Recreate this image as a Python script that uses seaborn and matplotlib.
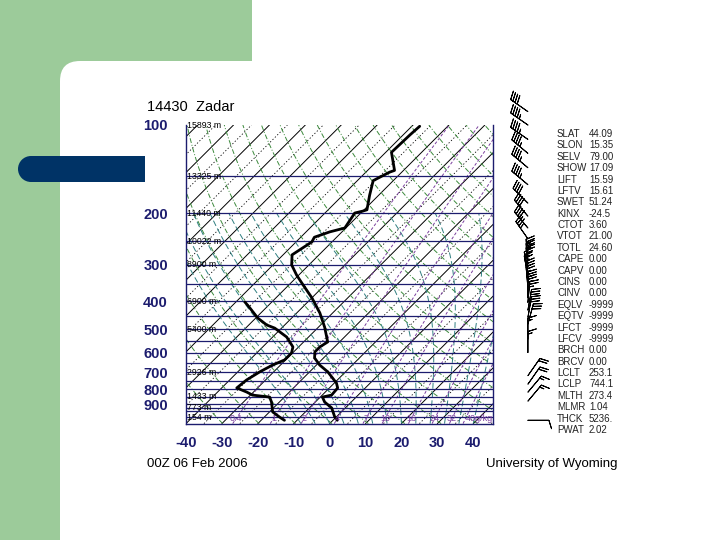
import numpy as np
import matplotlib
matplotlib.use("Agg")
import matplotlib.pyplot as plt
import matplotlib.ticker as mticker
from matplotlib.patches import Rectangle, FancyBboxPatch, Circle
import seaborn as sns

# --------------------------------------------------------------
# Sounding data (hPa, deg C)
# --------------------------------------------------------------
temp_p = [101, 108, 124, 143, 145, 155, 174, 195, 197, 200, 225, 232, 242, 251,
          278, 301, 326, 352, 390, 439, 491, 552, 574, 597, 626, 662, 699, 763,
          793, 839, 852, 886, 928, 997, 1023]
temp_c = [-57.8, -58.1, -58.4, -52.5, -53.4, -55.6, -52.5, -49.2, -50.0, -51.7,
          -50.3, -53.4, -56.2, -55.6, -57.5, -54.8, -50.6, -46.1, -40.0, -33.6,
          -28.3, -23.3, -24.1, -24.1, -22.5, -19.1, -14.9, -9.4, -7.7, -7.4,
          -9.4, -7.4, -3.8, -0.4, 1.2]

dwpt_p = [403, 422, 457, 483, 495, 531, 574, 602, 636, 662, 699, 745, 793, 819,
          839, 852, 886, 958, 997, 1023]
dwpt_c = [-57.5, -54.5, -49.5, -45.0, -41.9, -36.1, -31.6, -30.3, -30.3, -32.2,
          -33.9, -35.3, -35.8, -31.9, -29.4, -24.1, -22.2, -19.1, -15.8, -13.5]

# axis labels
press_ticks = [100, 200, 300, 400, 500, 600, 700, 800, 900]
temp_ticks = [-40, -30, -20, -10, 0, 10, 20, 30, 40]

# isobars and the heights written on them
isobars = [150, 200, 250, 300, 350, 400, 450, 500, 550, 600, 650, 700, 750,
           800, 850, 900, 925, 950, 1000]
height_p = [100, 150, 200, 250, 300, 400, 500, 700, 850, 925, 1000]
height_txt = ["15893 m", "13325 m", "11440 m", "10022 m", "8900 m", "6900 m",
              "5400 m", "2926 m", "1433 m", "773 m", "154 m"]

# mixing ratio lines (g/kg)
mixr_vals = [0.4, 1, 2, 4, 7, 10, 16, 24, 32, 40]
mixr_txt = ["0.4", "1", "2", "4", "7", "10", "16", "24", "32", "40g/kg"]

# winds
wind_p = [90, 100, 112, 125, 140, 160, 185, 205, 225, 245,
          290, 300, 310, 320, 330, 345, 360, 375, 390, 405,
          430, 455, 480, 540, 600, 720, 770, 820, 880, 1023]
wind_dir = [305, 305, 305, 310, 310, 310, 315, 320, 320, 325,
            355, 355, 355, 350, 350, 355, 355, 360, 360, 5,
            10, 10, 15, 360, 360, 35, 35, 40, 40, 90]
wind_kt = [40, 45, 45, 45, 45, 45, 40, 40, 40, 35,
           25, 25, 25, 25, 25, 25, 25, 25, 25, 25,
           30, 30, 30, 15, 15, 20, 20, 15, 15, 10]

# stability indices
index_names = ["SLAT", "SLON", "SELV", "SHOW", "LIFT", "LFTV", "SWET", "KINX",
               "CTOT", "VTOT", "TOTL", "CAPE", "CAPV", "CINS", "CINV", "EQLV",
               "EQTV", "LFCT", "LFCV", "BRCH", "BRCV", "LCLT", "LCLP", "MLTH",
               "MLMR", "THCK", "PWAT"]
index_vals = ["44.09", "15.35", "79.00", "17.09", "15.59", "15.61", "51.24",
              "-24.5", "3.60", "21.00", "24.60", "0.00", "0.00", "0.00", "0.00",
              "-9999", "-9999", "-9999", "-9999", "0.00", "0.00", "253.1",
              "744.1", "273.4", "1.04", "5236.", "2.02"]

# --------------------------------------------------------------
# Helpers
# --------------------------------------------------------------
P_BOT, P_TOP = 1050.0, 100.0
SKEW = 35.4
NAVY = "#1c1c6e"


def skew(t, p):
    return np.asarray(t, float) + SKEW * np.log(P_BOT / np.asarray(p, float))


def sat_vp(t):
    return 6.112 * np.exp(17.67 * t / (t + 243.5))


def moist_adiabat(t0, pres):
    # simple step integration of the pseudo-adiabat
    rd, cp, lv, eps = 287.0, 1004.0, 2.5e6, 0.622
    out = [t0]
    t = t0
    for i in range(1, len(pres)):
        p = pres[i - 1]
        tk = t + 273.15
        es = sat_vp(t)
        rs = eps * es / (p - es)
        dtdp = (rd * tk + lv * rs) / (p * (cp + lv ** 2 * rs * eps / (rd * tk ** 2)))
        t = t + dtdp * (pres[i] - p)
        out.append(t)
    return np.array(out)


# --------------------------------------------------------------
# Figure
# --------------------------------------------------------------
sns.set_theme(style="white")
plt.rcParams["font.family"] = ["Liberation Sans", "DejaVu Sans"]

fig = plt.figure(figsize=(7.2, 5.4), dpi=100)

# slide background
bg = fig.add_axes([0, 0, 1, 1], zorder=-5)
bg.set_xlim(0, 720)
bg.set_ylim(540, 0)
bg.axis("off")
green = "#9ccb9a"
bg.add_patch(Rectangle((0, 0), 252, 90, color=green, lw=0))
bg.add_patch(Rectangle((0, 0), 90, 540, color=green, lw=0))
bg.add_patch(FancyBboxPatch((80, 81), 700, 500, boxstyle="round,pad=20,rounding_size=20",
                            fc="white", ec="none"))
bg.add_patch(Rectangle((31, 156), 114, 26, color="#003366", lw=0))
bg.add_patch(Circle((31, 169), 13, color="#003366", lw=0))

# skew-T axes
ax = fig.add_axes([186 / 720, 1 - 423.6 / 540, 307 / 720, 298.6 / 540])
ax.set_facecolor("none")
ax.set_yscale("log")
ax.set_ylim(P_BOT, P_TOP)
ax.set_xlim(-40, 45.5)

p_line = np.geomspace(P_BOT, P_TOP, 120)

for t in range(-150, 60, 10):
    ax.plot(skew([t, t], [P_BOT, P_TOP]), [P_BOT, P_TOP], color="black", lw=0.7)
for t in range(-145, 60, 10):
    ax.plot(skew([t, t], [P_BOT, P_TOP]), [P_BOT, P_TOP], color="black", lw=0.6,
            ls=(0, (1.5, 2.5)))

for th in range(230, 470, 10):
    t_dry = th * (p_line / 1000.0) ** 0.2857 - 273.15
    ax.plot(skew(t_dry, p_line), p_line, color="#3c8a3c", lw=0.7, ls=(0, (5, 2, 1, 2)))

p_moist = np.geomspace(P_BOT, 200, 150)
for t0 in range(-8, 44, 4):
    ax.plot(skew(moist_adiabat(t0, p_moist), p_moist), p_moist, color="#2f7f80",
            lw=0.7, ls=(0, (6, 3)))

for w in mixr_vals:
    e = w * p_line / (622.0 + w)
    ln = np.log(e / 6.112)
    t_w = 243.5 * ln / (17.67 - ln)
    ax.plot(skew(t_w, p_line), p_line, color="#7b3f9e", lw=0.7, ls=(0, (3, 2)))

for p in isobars:
    ax.axhline(p, color=NAVY, lw=0.9)

# sounding lines
sns.lineplot(x=skew(temp_c, temp_p), y=temp_p, sort=False, estimator=None,
             color="black", lw=2, ax=ax)
sns.lineplot(x=skew(dwpt_c, dwpt_p), y=dwpt_p, sort=False, estimator=None,
             color="black", lw=2, ax=ax)

# heights on isobars
for p, txt in zip(height_p, height_txt):
    ax.text(-39.6, p, txt, fontsize=6.3, color="black", va="center", ha="left",
            clip_on=False)

# mixing ratio labels
for w, txt in zip(mixr_vals, mixr_txt):
    pl = 1008.0
    e = w * pl / (622.0 + w)
    ln = np.log(e / 6.112)
    t_w = 243.5 * ln / (17.67 - ln)
    ax.text(skew(t_w, pl), pl, txt, fontsize=6.5, color="#7b3f9e",
            ha="left" if txt.endswith("kg") else "center", va="center")

ax.set_yticks(press_ticks)
ax.set_yticklabels([str(p) for p in press_ticks])
ax.yaxis.set_minor_locator(mticker.NullLocator())
ax.yaxis.set_minor_formatter(mticker.NullFormatter())
ax.set_xticks(temp_ticks)
ax.set_xticklabels([str(t) for t in temp_ticks])
ax.tick_params(axis="y", length=0, pad=13, labelsize=10.5, labelcolor=NAVY)
ax.tick_params(axis="x", length=0, pad=9, labelsize=10.5, labelcolor=NAVY)
for lbl in ax.get_xticklabels() + ax.get_yticklabels():
    lbl.set_fontweight("bold")
ax.set_xlabel("")
ax.set_ylabel("")
for side in ["left", "right", "bottom"]:
    ax.spines[side].set_color(NAVY)
    ax.spines[side].set_linewidth(1.0)
ax.spines["top"].set_visible(False)

# wind barbs
wax = fig.add_axes([495 / 720, 1 - 423.6 / 540, 70 / 720, 298.6 / 540])
wax.set_yscale("log")
wax.set_ylim(P_BOT, P_TOP)
wax.set_xlim(0, 1)
wax.axis("off")
rad = np.deg2rad(wind_dir)
u = -np.array(wind_kt) * np.sin(rad)
v = -np.array(wind_kt) * np.cos(rad)
wax.barbs(np.full(len(wind_p), 0.47), wind_p, u, v, length=5.5, lw=0.7,
          color="black", clip_on=False)

# titles
fig.text(147 / 720, 1 - 107 / 540, "14430  Zadar", fontsize=10.5, va="center",
         ha="left", color="black")
fig.text(147 / 720, 1 - 464 / 540, "00Z 06 Feb 2006", fontsize=9.5, va="center",
         ha="left", color="black")
fig.text(618 / 720, 1 - 464 / 540, "University of Wyoming", fontsize=9.5,
         va="center", ha="right", color="black")

# index table
for i, (nm, val) in enumerate(zip(index_names, index_vals)):
    y = 134 + i * 11.385
    fig.text(557 / 720, 1 - y / 540, nm, fontsize=7, va="center", ha="left",
             color="#222222")
    fig.text(589 / 720, 1 - y / 540, val, fontsize=7, va="center", ha="left",
             color="#222222")

fig.savefig("out.png", dpi=100)
